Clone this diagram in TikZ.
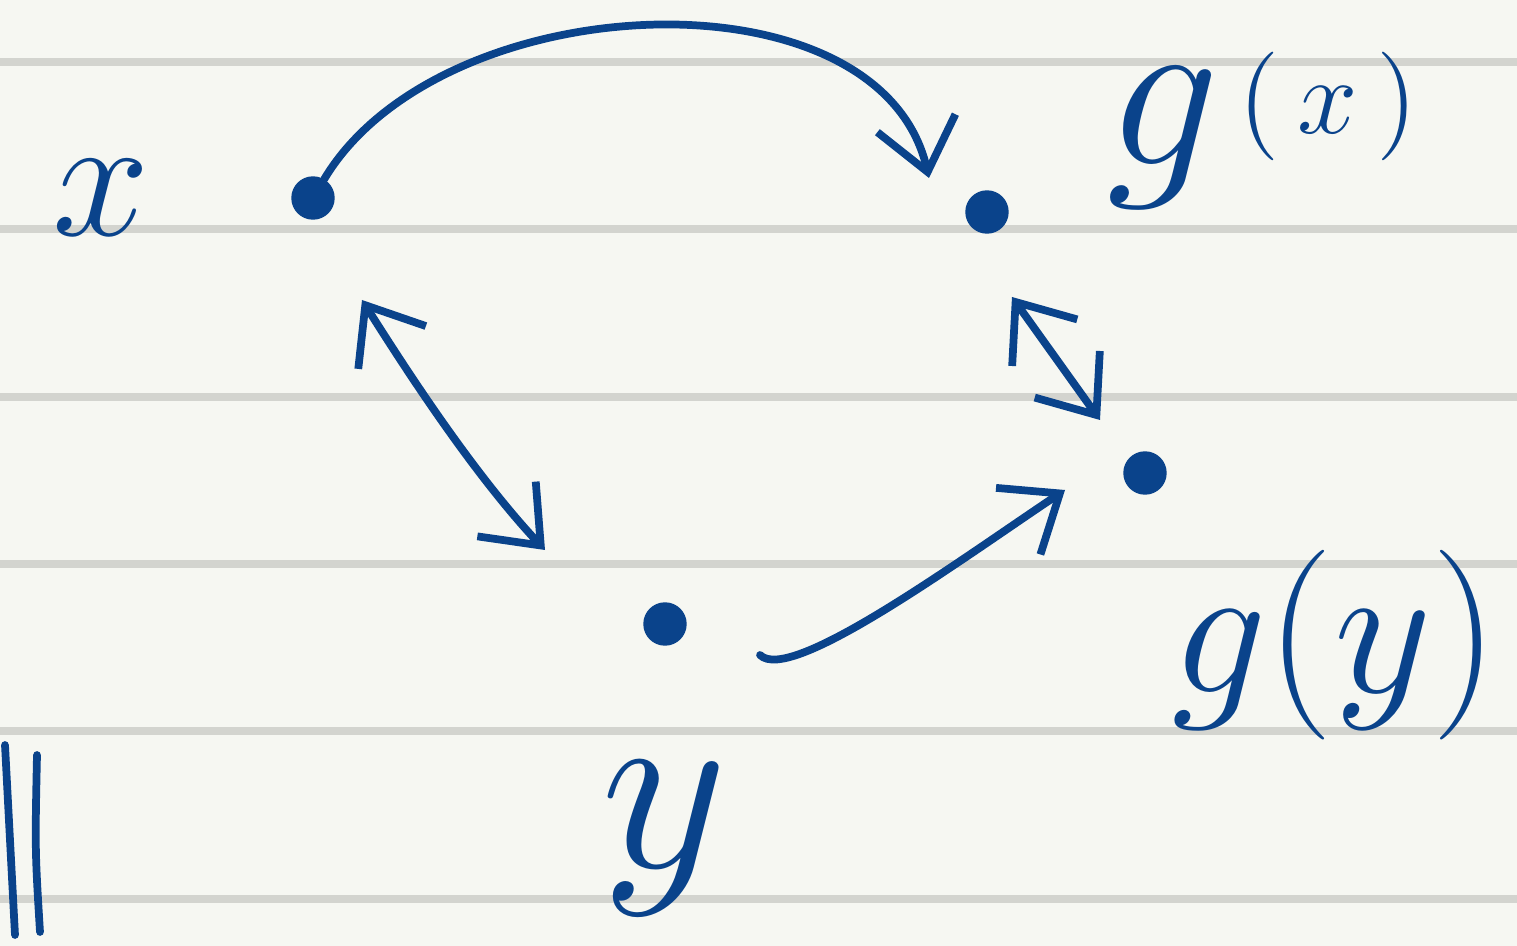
\documentclass[tikz,border=0pt]{standalone}
\usepackage{xcolor}
\usetikzlibrary{arrows.meta,positioning,calc}
\definecolor{ink}{HTML}{0A438B}
\definecolor{paper}{HTML}{F6F7F2}
\definecolor{ruling}{HTML}{D3D4CF}

\begin{document}
\begin{tikzpicture}[x=0.01cm, y=-0.01cm, >={Straight Barb[length=5mm,width=8mm]}, line cap=round, line join=round]
        \tikzset{
            dot/.style={circle, fill=ink, draw=ink, minimum size=0.42cm, inner sep=0pt},
            stroke/.style={draw=ink, line width=2.2pt},
            conn/.style={stroke, ->},
            biconn/.style={stroke, <->},
            lbl/.style={text=ink, inner sep=0pt, font=\Huge, scale=#1},
            lbl/.default=2,
        }

        % Paper with ruled lines
        \fill [paper] (0,0) rectangle (1517,946);
        \useasboundingbox (0,0) rectangle (1517,946);
        \foreach \ly in {62,229,397,564,731,899}
            \draw [ruling, line width=2.4pt] (0,\ly) -- (1517,\ly);

        % Points
        \node [dot] (px) at (313,198) {};
        \node [dot] (gx) at (987,212) {};
        \node [dot] (gy) at (1145,473) {};
        \node [dot] (py) at (665,624) {};

        % Labels
        \node [lbl, left=1.4cm of px] (lx) {$x$};
        \node [lbl=2.57, anchor=base west] (lgx) at (1105,165) {$g$\hspace{0.08em}\raisebox{0.14em}{\fontsize{12}{12}\selectfont$(\,x\,)$}};
        \node [lbl=2.17] (lgy) at (1335,645) {$g(y)$};
        \node [lbl=2.81, anchor=base] (ly) at (665,868) {$y$};

        % Connections
        \draw [conn] (px) .. controls (440,-15) and (880,-35) .. ([shift={(-58,-34)}]gx.center);
        \draw [biconn] ([shift={(49,102)}]px.center) .. controls (400,360) and (470,470) .. ([shift={(-120,-74)}]py.center);
        \draw [biconn] ([shift={(25,85)}]gx.center) -- ([shift={(-45,-53)}]gy.center);
        \draw [conn] ([shift={(95,31)}]py.center) .. controls (790,685) and (960,560) .. ([shift={(-80,17)}]gy.center);

        % Strokes at the left margin
        \draw [stroke] (5,745) -- (15,935);
        \draw [stroke] (37,755) .. controls (35,850) .. (40,932);
    \end{tikzpicture}
\end{document}
